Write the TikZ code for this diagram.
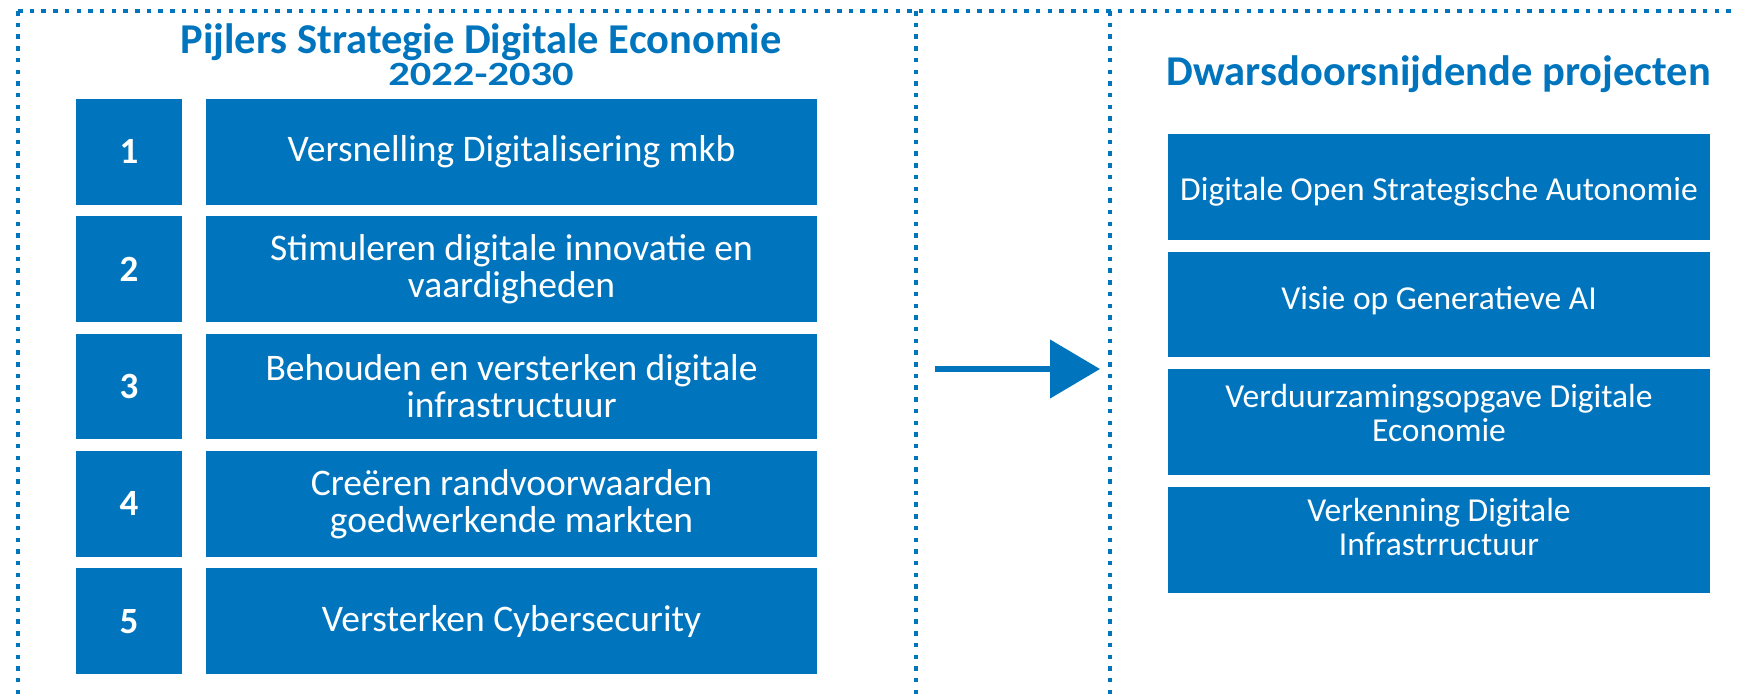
\documentclass[tikz,border=0pt]{standalone}
\usepackage{fontspec}
\setmainfont{Carlito}
\newfontfamily\breedletter[FakeStretch=1.25]{Carlito}
\usetikzlibrary{arrows.meta}
\definecolor{rijksblauw}{RGB}{0,117,190}

\begin{document}
\begin{tikzpicture}[x=1pt,y=-1pt,
    stippel/.style={draw=rijksblauw, line width=3.5pt, dash pattern=on 4.5pt off 7.2pt},
    nummer/.style={fill=rijksblauw, text=white, inner sep=0pt,
        minimum width=106pt, minimum height=105.7pt,
        font=\fontsize{37}{40}\selectfont\bfseries},
    pijler/.style={fill=rijksblauw, text=white, inner sep=0pt, align=center,
        minimum width=611pt, minimum height=105.7pt,
        font=\fontsize{37.5}{37}\selectfont},
    project/.style={pijler, minimum width=542pt},
    tekst/.style={text=white, align=center, font=\fontsize{33.5}{34}\selectfont},
    kop/.style={text=rijksblauw, anchor=base, inner sep=0pt, font=\fontsize{42.5}{44}\selectfont\bfseries}]

    \useasboundingbox (0,0) rectangle (1741,696);

    % kaders
    \draw[stippel] (18,11) -- (1737,11);
    \draw[stippel] (18,11) -- (18,696);
    \draw[stippel] (916,11) -- (916,696);
    \draw[stippel] (1110,11) -- (1110,696);

    % pijlers links
    \node[kop] (kopLinks) at (481,53) {Pijlers Strategie Digitale Economie};
    \node[kop, font=\breedletter\fontsize{34}{36}\selectfont\bfseries] (jaren) at (481,85) {2022-2030};

    \node[nummer] (n1) at (129,151.9) {1};
    \node[pijler] (s1) at (511.5,151.9) {Versnelling Digitalisering mkb};
    \node[nummer] (n2) at (129,269.2) {2};
    \node[pijler] (s2) at (511.5,269.2) {Stimuleren digitale innovatie en\\vaardigheden};
    \node[nummer] (n3) at (129,386.5) {3};
    \node[pijler] (s3) at (511.5,386.5) {Behouden en versterken digitale\\infrastructuur};
    \node[nummer] (n4) at (129,503.9) {4};
    \node[pijler] (s4) at (511.5,503.9) {Creëren randvoorwaarden\\goedwerkende markten};
    \node[nummer] (n5) at (129,621.2) {5};
    \node[pijler] (s5) at (511.5,621.2) {Versterken Cybersecurity};

    % pijl
    \coordinate (pijlvan) at (935,369);
    \coordinate (pijlnaar) at (1100,369);
    \draw[rijksblauw, line width=6pt, -{Triangle[length=50pt,width=57.6pt]}] (pijlvan) -- (pijlnaar);

    % projecten rechts
    \node[kop] (kopRechts) at (1439,85) {Dwarsdoorsnijdende projecten};

    \node[project] (p1) at (1439,186.9) {};
    \node[tekst] (p1t) at ([yshift=-5pt]p1.center) {Digitale Open Strategische Autonomie};
    \node[project] (p2) at (1439,304.5) {};
    \node[tekst] (p2t) at ([yshift=4pt]p2.center) {Visie op Generatieve AI};
    \node[project] (p3) at (1439,421.9) {};
    \node[tekst] (p3t) at ([yshift=9pt]p3.center) {Verduurzamingsopgave Digitale\\Economie};
    \node[project] (p4) at (1439,539.9) {};
    \node[tekst] (p4t) at ([yshift=13pt]p4.center) {Verkenning Digitale\\Infrastrructuur};
\end{tikzpicture}
\end{document}
